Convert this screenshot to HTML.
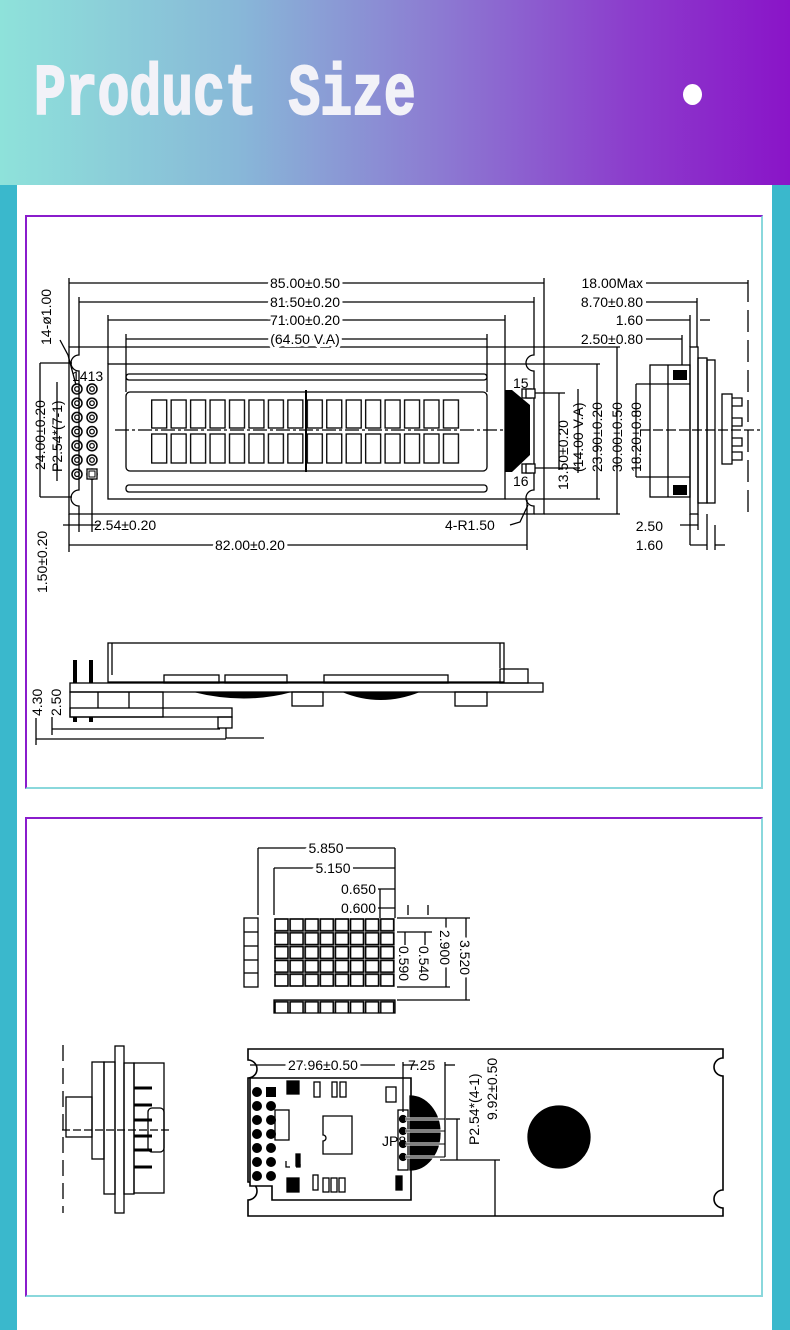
<!DOCTYPE html>
<html><head><meta charset="utf-8"><style>
html,body{margin:0;padding:0;width:790px;height:1330px;overflow:hidden;background:#fff}
.hdr{position:absolute;left:0;top:0;width:790px;height:185px;background:linear-gradient(90deg,#8ee2da 0%,#88b8d8 30%,#8c7cd2 55%,#8c3ccc 80%,#8a14c8 100%)}
.title{position:absolute;left:34px;top:54px;font:bold 53px "Liberation Mono",monospace;color:#f2f2f8;transform:scaleY(1.36);transform-origin:0 0;-webkit-text-stroke:1.5px #f2f2f8}
.dot{position:absolute;left:683px;top:84px;width:19px;height:21px;border-radius:50%;background:#fff}
.sl{position:absolute;top:185px;left:0;width:17px;height:1145px;background:#3ab8cc}
.sr{position:absolute;top:185px;left:772px;width:18px;height:1145px;background:#3ab8cc}
.box{position:absolute;left:25px;width:734px;border:2px solid;border-color:#8a1ccc #8ad8dc #8ad8dc #8a1ccc}
svg{position:absolute;left:0;top:0}
text{font-family:"Liberation Sans Narrow","Liberation Sans",sans-serif;font-size:14px;fill:#000}
</style></head><body>
<div class="hdr"><div class="title">Product Size</div><div class="dot"></div></div>
<div class="sl"></div><div class="sr"></div>
<div class="box" style="top:215px;height:570px"></div>
<div class="box" style="top:817px;height:476px"></div>
<svg width="790" height="1330" viewBox="0 0 790 1330">
<defs>
<pattern id="ch" x="151" y="0" width="19.45" height="1330" patternUnits="userSpaceOnUse">
<rect x="0.7" y="400" width="15" height="28" fill="#fff" stroke="#000" stroke-width="1.3"/>
<rect x="0.7" y="434" width="15" height="29" fill="#fff" stroke="#000" stroke-width="1.3"/>
</pattern>
<pattern id="pin" x="70" y="382" width="15" height="14.2" patternUnits="userSpaceOnUse">
<circle cx="7" cy="7" r="5" fill="none" stroke="#000" stroke-width="1.5"/><circle cx="7" cy="7" r="2.3" fill="none" stroke="#000" stroke-width="1.2"/>
</pattern>
<pattern id="cell" x="274" y="918" width="15.1" height="13.8" patternUnits="userSpaceOnUse">
<rect x="1" y="1" width="13" height="11.8" fill="none" stroke="#000" stroke-width="1.6"/>
</pattern>
</defs>
<g fill="none" stroke="#000" stroke-width="1.3">
<path d="M69,347 H79 V355 A8,8 0 0 0 79,371 V490 A8,8 0 0 0 79,506 V514 H69 Z" />
<path d="M79,347 H534 V355 A8,8 0 0 0 534,371 V490 A8,8 0 0 0 534,506 V514 H79" />
<path d="M534,347 H544 V514 H534"/>
<rect x="108" y="364" width="397" height="135"/>
<rect x="126" y="374" width="361" height="6" rx="3"/>
<rect x="126" y="485" width="361" height="7" rx="3"/>
<rect x="126" y="392" width="361" height="79" rx="4"/>
<rect x="522" y="389" width="9" height="9"/><rect x="522" y="464" width="9" height="9"/>
<line x1="115" y1="430" x2="520" y2="430" stroke-dasharray="14,3,3,3"/>
<line x1="306" y1="390" x2="306" y2="472" stroke-width="2"/>
<line x1="69" y1="283" x2="544" y2="283"/><line x1="79" y1="302" x2="534" y2="302"/>
<line x1="108" y1="320" x2="505" y2="320"/><line x1="126" y1="339" x2="487" y2="339"/>
<line x1="69" y1="278" x2="69" y2="347"/><line x1="544" y1="278" x2="544" y2="347"/>
<line x1="79" y1="297" x2="79" y2="347"/><line x1="534" y1="297" x2="534" y2="347"/>
<line x1="108" y1="315" x2="108" y2="364"/><line x1="505" y1="315" x2="505" y2="364"/>
<line x1="126" y1="334" x2="126" y2="392"/><line x1="487" y1="334" x2="487" y2="392"/>
<line x1="531" y1="393" x2="565" y2="393"/><line x1="531" y1="468" x2="580" y2="468"/>
<line x1="559" y1="393" x2="559" y2="470"/><line x1="578" y1="389" x2="578" y2="473"/>
<line x1="505" y1="364" x2="600" y2="364"/><line x1="505" y1="499" x2="600" y2="499"/>
<line x1="597" y1="364" x2="597" y2="499"/>
<line x1="544" y1="347" x2="620" y2="347"/><line x1="544" y1="514" x2="620" y2="514"/>
<line x1="617" y1="347" x2="617" y2="514"/>
<line x1="40" y1="363" x2="40" y2="497"/><line x1="40" y1="363" x2="72" y2="363"/><line x1="40" y1="497" x2="72" y2="497"/>
<line x1="57" y1="382" x2="57" y2="481"/>
<line x1="60" y1="340" x2="68" y2="355"/><line x1="68" y1="355" x2="76" y2="385"/>
<line x1="69" y1="514" x2="69" y2="552"/><line x1="79" y1="514" x2="79" y2="532"/>
<line x1="92" y1="479" x2="92" y2="532"/>
<line x1="63" y1="525" x2="100" y2="525"/>
<line x1="69" y1="545" x2="527" y2="545"/><line x1="527" y1="500" x2="527" y2="550"/>
<path d="M510,525 L520,522 L528,505"/>
<rect x="690" y="347" width="8" height="167"/>
<rect x="650" y="365" width="40" height="132"/>
<line x1="668" y1="365" x2="668" y2="497"/>
<rect x="698" y="358" width="9" height="145"/><rect x="707" y="360" width="8" height="143"/>
<rect x="722" y="394" width="10" height="70"/>
<path d="M732,398 h10 v8 h-10 M732,418 h10 v8 h-10 M732,438 h10 v8 h-10 M732,452 h10 v8 h-10"/>
<line x1="640" y1="430" x2="760" y2="430" stroke-dasharray="10,3"/>
<line x1="748" y1="280" x2="748" y2="515" stroke-dasharray="22,8"/>
<line x1="646" y1="283" x2="748" y2="283"/><line x1="646" y1="302" x2="697" y2="302"/>
<line x1="646" y1="320" x2="690" y2="320"/><line x1="646" y1="339" x2="682" y2="339"/>
<line x1="697" y1="298" x2="697" y2="347"/><line x1="690" y1="315" x2="690" y2="347"/><line x1="682" y1="335" x2="682" y2="365"/>
<line x1="700" y1="320" x2="710" y2="320"/>
<line x1="636" y1="384" x2="636" y2="477"/><line x1="636" y1="384" x2="690" y2="384"/><line x1="636" y1="477" x2="690" y2="477"/>
<line x1="690" y1="514" x2="690" y2="545"/><line x1="698" y1="514" x2="698" y2="530"/><line x1="707" y1="514" x2="707" y2="550"/><line x1="715" y1="525" x2="715" y2="550"/>
<line x1="680" y1="525" x2="698" y2="525"/><line x1="690" y1="545" x2="707" y2="545"/><line x1="715" y1="545" x2="725" y2="545"/>
<rect x="108" y="643" width="396" height="39"/>
<line x1="112" y1="643" x2="112" y2="675"/><line x1="500" y1="643" x2="500" y2="668"/>
<rect x="500" y="669" width="28" height="14"/>
<rect x="70" y="683" width="473" height="9"/>
<rect x="164" y="675" width="55" height="8"/><rect x="225" y="675" width="62" height="8"/><rect x="324" y="675" width="124" height="8"/>
<rect x="70" y="692" width="93" height="25"/><line x1="98" y1="692" x2="98" y2="708"/><line x1="129" y1="692" x2="129" y2="708"/>
<rect x="70" y="708" width="162" height="9"/>
<rect x="292" y="692" width="31" height="14"/><rect x="455" y="692" width="32" height="14"/>
<rect x="218" y="717" width="14" height="11"/>
<path d="M226,728 v10 h38"/>
<line x1="75" y1="660" x2="75" y2="683" stroke-width="4"/><line x1="91" y1="660" x2="91" y2="683" stroke-width="4"/>
<line x1="75" y1="717" x2="75" y2="722" stroke-width="4"/><line x1="91" y1="717" x2="91" y2="722" stroke-width="4"/>
<line x1="36" y1="739" x2="226" y2="739"/><line x1="52" y1="729" x2="220" y2="729"/>
<line x1="36" y1="718" x2="36" y2="745"/><line x1="52" y1="717" x2="52" y2="735"/>
<rect x="274" y="918" width="121" height="69" fill="url(#cell)" stroke="none"/>
<rect x="244" y="918" width="14" height="69"/><line x1="244" y1="932" x2="258" y2="932"/><line x1="244" y1="946" x2="258" y2="946"/><line x1="244" y1="960" x2="258" y2="960"/><line x1="244" y1="973" x2="258" y2="973"/>
<rect x="274" y="1000" width="121" height="13" fill="url(#cell)" stroke="none"/>
<rect x="274" y="1000" width="121" height="13"/>
<line x1="258" y1="848" x2="395" y2="848"/><line x1="274" y1="868" x2="395" y2="868"/>
<line x1="258" y1="848" x2="258" y2="915"/><line x1="274" y1="868" x2="274" y2="915"/><line x1="395" y1="848" x2="395" y2="918"/>
<line x1="378" y1="889" x2="395" y2="889"/><line x1="378" y1="908" x2="395" y2="908"/><line x1="380" y1="889" x2="380" y2="918"/>
<line x1="397" y1="918" x2="470" y2="918"/><line x1="397" y1="932" x2="432" y2="932"/><line x1="397" y1="987" x2="450" y2="987"/><line x1="397" y1="1000" x2="470" y2="1000"/>
<line x1="408" y1="905" x2="408" y2="915"/><line x1="428" y1="905" x2="428" y2="915"/>
<line x1="405" y1="932" x2="405" y2="945"/><line x1="425" y1="932" x2="425" y2="945"/>
<line x1="446" y1="918" x2="446" y2="987"/><line x1="466" y1="918" x2="466" y2="1000"/>
<line x1="63" y1="1045" x2="63" y2="1213" stroke-dasharray="16,7"/>
<rect x="115" y="1046" width="9" height="167"/>
<rect x="92" y="1062" width="12" height="97"/><rect x="104" y="1062" width="11" height="132"/>
<rect x="124" y="1063" width="10" height="131"/><rect x="134" y="1063" width="30" height="130"/>
<rect x="148" y="1108" width="16" height="44" rx="4"/>
<rect x="66" y="1097" width="26" height="40"/>
<path d="M134,1088 h18 M134,1105 h18 M134,1120 h18 M134,1136 h18 M134,1150 h18 M134,1167 h18" stroke-width="3"/>
<line x1="62" y1="1130" x2="170" y2="1130" stroke-dasharray="8,3"/>
<path d="M248,1049 H723 V1058 A9,9 0 0 0 723,1076 V1190 A9,9 0 0 0 723,1208 V1216 H248 V1200 A9,9 0 0 0 248,1182 V1078 A9,9 0 0 0 248,1060 Z" stroke-width="1.6"/>
<path d="M250,1078 H411 V1200 H272 V1186 H250 Z" fill="#fff" stroke-width="1.6"/>
<ellipse cx="559" cy="1137" rx="31" ry="31" fill="#000"/>
<path d="M410,1096 A30,37 0 0 1 410,1170 Z" fill="#000"/>
<rect x="398" y="1110" width="10" height="60" fill="#fff"/>
<circle cx="403" cy="1119" r="3.5" fill="#000"/><circle cx="403" cy="1131" r="3.5" fill="#000"/><circle cx="403" cy="1144" r="3.5" fill="#000"/><circle cx="403" cy="1157" r="3.5" fill="#000"/>
<path d="M405,1119 h40 M405,1131 h40 M405,1144 h40 M405,1157 h40" stroke="#fff" stroke-width="3"/>
<path d="M405,1119 h40 M405,1131 h40 M405,1144 h40 M405,1157 h40" stroke-width="1"/>
<rect x="275" y="1110" width="14" height="30"/>
<path d="M323,1116 h29 v38 h-29 v-13 a3,3 0 0 0 0,-6 z"/>
<rect x="314" y="1082" width="6" height="15"/><rect x="332" y="1082" width="5" height="15"/><rect x="340" y="1082" width="6" height="15"/>
<rect x="386" y="1087" width="10" height="15"/>
<rect x="313" y="1175" width="5" height="15"/><rect x="323" y="1178" width="6" height="14"/><rect x="331" y="1178" width="6" height="14"/><rect x="339" y="1178" width="6" height="14"/>
<rect x="296" y="1154" width="4" height="12" fill="#000"/>
<path d="M286,1161 v6 h4 M296,1167 h4 v-3"/>
<rect x="287" y="1081" width="12" height="13" fill="#000"/><rect x="287" y="1178" width="12" height="14" fill="#000"/>
<rect x="396" y="1176" width="6" height="14" fill="#000"/>
<line x1="250" y1="1065" x2="395" y2="1065"/><line x1="403" y1="1065" x2="418" y2="1065"/><line x1="445" y1="1065" x2="455" y2="1065"/>
<line x1="403" y1="1062" x2="403" y2="1112"/><line x1="445" y1="1062" x2="445" y2="1157"/>
<line x1="457" y1="1119" x2="457" y2="1160"/><line x1="446" y1="1119" x2="460" y2="1119"/>
<line x1="440" y1="1160" x2="500" y2="1160"/><line x1="495" y1="1160" x2="495" y2="1216"/>
</g>
<rect x="70" y="383" width="30" height="99" fill="url(#pin)"/>
<rect x="87" y="469" width="10" height="10" fill="#fff" stroke="#000" stroke-width="1.3"/>
<rect x="89" y="471" width="6" height="6" fill="none" stroke="#000"/>
<rect x="151" y="395" width="311" height="75" fill="url(#ch)"/>
<path d="M505,390 L512,390 L530,405 L530,455 L512,472 L505,472 Z" fill="#000"/>
<rect x="526" y="389" width="9" height="9" fill="#fff" stroke="#000" stroke-width="1.3"/>
<rect x="526" y="464" width="9" height="9" fill="#fff" stroke="#000" stroke-width="1.3"/>
<rect x="673" y="370" width="14" height="10" fill="#000"/><rect x="673" y="485" width="14" height="10" fill="#000"/>
<path d="M193,692 Q245,705 292,692 Z" fill="#000"/><path d="M342,692 Q380,708 420,692 Z" fill="#000"/>
<g fill="#000">
<circle cx="257" cy="1092" r="5"/><circle cx="257" cy="1106" r="5"/><circle cx="257" cy="1120" r="5"/><circle cx="257" cy="1134" r="5"/><circle cx="257" cy="1148" r="5"/><circle cx="257" cy="1162" r="5"/><circle cx="257" cy="1176" r="5"/>
<rect x="266" y="1087" width="10" height="10"/><circle cx="271" cy="1106" r="5"/><circle cx="271" cy="1120" r="5"/><circle cx="271" cy="1134" r="5"/><circle cx="271" cy="1148" r="5"/><circle cx="271" cy="1162" r="5"/><circle cx="271" cy="1176" r="5"/>
</g>
<g>
<text x="305" y="288" text-anchor="middle" stroke="#fff" stroke-width="6">85.00±0.50</text><text x="305" y="288" text-anchor="middle">85.00±0.50</text>
<text x="305" y="307" text-anchor="middle" stroke="#fff" stroke-width="6">81.50±0.20</text><text x="305" y="307" text-anchor="middle">81.50±0.20</text>
<text x="305" y="325" text-anchor="middle" stroke="#fff" stroke-width="6">71.00±0.20</text><text x="305" y="325" text-anchor="middle">71.00±0.20</text>
<text x="305" y="344" text-anchor="middle" stroke="#fff" stroke-width="6">(64.50  V.A)</text><text x="305" y="344" text-anchor="middle">(64.50  V.A)</text>
<text x="643" y="288" text-anchor="end">18.00Max</text>
<text x="643" y="307" text-anchor="end">8.70±0.80</text>
<text x="643" y="325" text-anchor="end">1.60</text>
<text x="643" y="344" text-anchor="end">2.50±0.80</text>
<text x="513" y="388" font-size="12">15</text><text x="513" y="486" font-size="12">16</text>
<text x="72" y="381" font-size="12">1413</text>
<text x="94" y="530">2.54±0.20</text>
<text x="445" y="530">4-R1.50</text>
<text x="215" y="550" stroke="#fff" stroke-width="6">82.00±0.20</text><text x="215" y="550">82.00±0.20</text>
<text x="663" y="531" text-anchor="end">2.50</text>
<text x="663" y="550" text-anchor="end">1.60</text>
<text transform="translate(568,490) rotate(-90)">13.50±0.20</text>
<text transform="translate(583,472) rotate(-90)">(14.00  V.A)</text>
<text transform="translate(602,472) rotate(-90)">23.90±0.20</text>
<text transform="translate(622,472) rotate(-90)">30.00±0.50</text>
<text transform="translate(641,472) rotate(-90)">18.20±0.80</text>
<text transform="translate(45,470) rotate(-90)">24.00±0.20</text>
<text transform="translate(62,472) rotate(-90)">P2.54*(7-1)</text>
<text transform="translate(51,345) rotate(-90)">14-ø1.00</text>
<text transform="translate(47,593) rotate(-90)">1.50±0.20</text>
<text transform="translate(42,716) rotate(-90)">4.30</text>
<text transform="translate(61,716) rotate(-90)">2.50</text>
<text x="326" y="853" text-anchor="middle" stroke="#fff" stroke-width="6">5.850</text><text x="326" y="853" text-anchor="middle">5.850</text>
<text x="333" y="873" text-anchor="middle" stroke="#fff" stroke-width="6">5.150</text><text x="333" y="873" text-anchor="middle">5.150</text>
<text x="376" y="894" text-anchor="end">0.650</text>
<text x="376" y="913" text-anchor="end">0.600</text>
<text transform="translate(399,946) rotate(90)">0.590</text>
<text transform="translate(419,946) rotate(90)">0.540</text>
<text transform="translate(440,930) rotate(90)" stroke="#fff" stroke-width="6">2.900</text><text transform="translate(440,930) rotate(90)">2.900</text>
<text transform="translate(460,940) rotate(90)" stroke="#fff" stroke-width="6">3.520</text><text transform="translate(460,940) rotate(90)">3.520</text>
<text x="288" y="1070" stroke="#fff" stroke-width="6">27.96±0.50</text><text x="288" y="1070">27.96±0.50</text>
<text x="408" y="1070">7.25</text>
<text transform="translate(479,1145) rotate(-90)">P2.54*(4-1)</text>
<text transform="translate(497,1120) rotate(-90)">9.92±0.50</text>
<text x="382" y="1146" font-size="9">JP8</text>
</g>
</svg>
</body></html>
